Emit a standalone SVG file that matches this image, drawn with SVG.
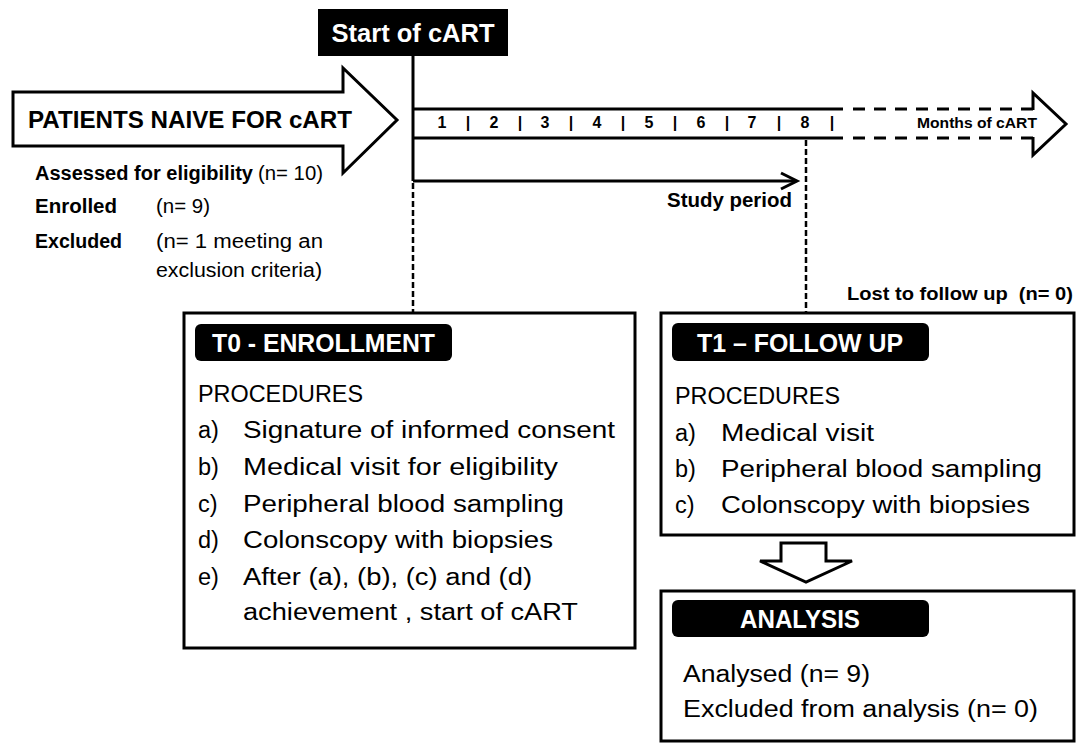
<svg xmlns="http://www.w3.org/2000/svg" width="1078" height="743" viewBox="0 0 1078 743">
<style>
text{font-family:"Liberation Sans",Arial,sans-serif;fill:#000}
.b{font-weight:bold}
.w{fill:#fff}
.hdr{fill:#000}
.box{fill:#fff;stroke:#000;stroke-width:3}
.ln{fill:none;stroke:#000;stroke-width:3}
.dash{fill:none;stroke:#000;stroke-width:2.5;stroke-dasharray:6 3}
.tdash{fill:none;stroke:#000;stroke-width:3;stroke-dasharray:12 9}
.body{font-size:23.5px}
.num{font-size:16px;font-weight:bold;text-anchor:middle}
</style>
<rect width="1078" height="743" fill="#fff"/>

<g id="connectors">
  <line class="ln" x1="413" y1="56" x2="413" y2="181"/>
  <line class="dash" x1="413" y1="183" x2="413" y2="313"/>
  <line class="dash" x1="806" y1="140" x2="806" y2="313"/>
  <line class="ln" x1="413" y1="181" x2="795" y2="181"/>
  <polyline class="ln" points="781,173 797,181 781,189"/>
  <polygon class="box" points="781,543 826,543 826,561 852,561 806,582 760,561 781,561"/>
</g>

<g id="start-cart">
  <rect x="318" y="9" width="190" height="47" fill="#000"/>
  <text class="b w" x="413" y="42" font-size="25" text-anchor="middle" textLength="163" lengthAdjust="spacingAndGlyphs">Start of cART</text>
</g>

<g id="patients-arrow">
  <polygon class="box" points="13,92 343,92 343,68 397,120 343,173 343,146 13,146"/>
  <text class="b" x="28" y="128" font-size="23.5" textLength="324" lengthAdjust="spacingAndGlyphs">PATIENTS NAIVE FOR cART</text>
</g>

<g id="eligibility">
  <text class="b" x="35" y="180" font-size="19.5" textLength="218" lengthAdjust="spacingAndGlyphs">Assessed for eligibility</text>
  <text x="258" y="180" font-size="19.5" textLength="65" lengthAdjust="spacingAndGlyphs">(n= 10)</text>
  <text class="b" x="35" y="213" font-size="19.5" textLength="82" lengthAdjust="spacingAndGlyphs">Enrolled</text>
  <text x="156" y="213" font-size="19.5" textLength="54" lengthAdjust="spacingAndGlyphs">(n= 9)</text>
  <text class="b" x="35" y="248" font-size="19.5" textLength="87" lengthAdjust="spacingAndGlyphs">Excluded</text>
  <text x="156" y="248" font-size="19.5" textLength="167" lengthAdjust="spacingAndGlyphs">(n= 1 meeting an</text>
  <text x="156" y="277" font-size="19.5" textLength="166" lengthAdjust="spacingAndGlyphs">exclusion criteria)</text>
</g>

<g id="timeline">
  <line class="ln" x1="413" y1="109" x2="843" y2="109"/>
  <line class="ln" x1="413" y1="138" x2="843" y2="138"/>
  <line class="tdash" x1="853" y1="109" x2="1033" y2="109"/>
  <line class="tdash" x1="853" y1="138" x2="1033" y2="138"/>
  <polyline class="ln" points="1033,110 1033,93 1066,124 1033,155 1033,137"/>
  <text class="num" x="442" y="128">1</text>
  <text class="num" x="468" y="128">|</text>
  <text class="num" x="494" y="128">2</text>
  <text class="num" x="520" y="128">|</text>
  <text class="num" x="545" y="128">3</text>
  <text class="num" x="571" y="128">|</text>
  <text class="num" x="597" y="128">4</text>
  <text class="num" x="623" y="128">|</text>
  <text class="num" x="649" y="128">5</text>
  <text class="num" x="675" y="128">|</text>
  <text class="num" x="701" y="128">6</text>
  <text class="num" x="727" y="128">|</text>
  <text class="num" x="752" y="128">7</text>
  <text class="num" x="779" y="128">|</text>
  <text class="num" x="805" y="128">8</text>
  <text class="num" x="832" y="128">|</text>
  <text class="b" x="917" y="128" font-size="15.5" textLength="120" lengthAdjust="spacingAndGlyphs">Months of cART</text>
  <text class="b" x="667" y="207" font-size="20" textLength="125" lengthAdjust="spacingAndGlyphs">Study period</text>
  <text class="b" x="847" y="300" font-size="18" textLength="226" lengthAdjust="spacingAndGlyphs" xml:space="preserve">Lost to follow up  (n= 0)</text>
</g>

<g id="t0-enrollment">
  <rect class="box" x="184" y="313" width="451" height="335"/>
  <rect class="hdr" x="195" y="324" width="257" height="37" rx="6"/>
  <text class="b w" x="212" y="352" font-size="26" textLength="223" lengthAdjust="spacingAndGlyphs">T0 - ENROLLMENT</text>
  <text class="body" x="198" y="402" textLength="165" lengthAdjust="spacingAndGlyphs">PROCEDURES</text>
  <text class="body" x="198" y="438">a)</text>
  <text class="body" x="243" y="438" textLength="372" lengthAdjust="spacingAndGlyphs">Signature of informed consent</text>
  <text class="body" x="198" y="475">b)</text>
  <text class="body" x="243" y="475" textLength="315" lengthAdjust="spacingAndGlyphs">Medical visit for eligibility</text>
  <text class="body" x="198" y="512">c)</text>
  <text class="body" x="243" y="512" textLength="321" lengthAdjust="spacingAndGlyphs">Peripheral blood sampling</text>
  <text class="body" x="198" y="548">d)</text>
  <text class="body" x="243" y="548" textLength="310" lengthAdjust="spacingAndGlyphs">Colonscopy with biopsies</text>
  <text class="body" x="198" y="585">e)</text>
  <text class="body" x="243" y="585" textLength="289" lengthAdjust="spacingAndGlyphs">After (a), (b), (c) and (d)</text>
  <text class="body" x="243" y="620" textLength="335" lengthAdjust="spacingAndGlyphs">achievement , start of cART</text>
</g>

<g id="t1-follow-up">
  <rect class="box" x="661" y="313" width="413" height="222"/>
  <rect class="hdr" x="672" y="323" width="257" height="38" rx="6"/>
  <text class="b w" x="697" y="352" font-size="26" textLength="206" lengthAdjust="spacingAndGlyphs">T1 – FOLLOW UP</text>
  <text class="body" x="675" y="404" textLength="165" lengthAdjust="spacingAndGlyphs">PROCEDURES</text>
  <text class="body" x="675" y="441">a)</text>
  <text class="body" x="721" y="441" textLength="153" lengthAdjust="spacingAndGlyphs">Medical visit</text>
  <text class="body" x="675" y="477">b)</text>
  <text class="body" x="721" y="477" textLength="321" lengthAdjust="spacingAndGlyphs">Peripheral blood sampling</text>
  <text class="body" x="675" y="513">c)</text>
  <text class="body" x="721" y="513" textLength="309" lengthAdjust="spacingAndGlyphs">Colonscopy with biopsies</text>
</g>

<g id="analysis">
  <rect class="box" x="661" y="591" width="413" height="150"/>
  <rect class="hdr" x="672" y="600" width="257" height="37" rx="6"/>
  <text class="b w" x="800" y="628" font-size="26" text-anchor="middle" textLength="120" lengthAdjust="spacingAndGlyphs">ANALYSIS</text>
  <text class="body" x="683" y="682" textLength="187" lengthAdjust="spacingAndGlyphs">Analysed (n= 9)</text>
  <text class="body" x="683" y="717" textLength="355" lengthAdjust="spacingAndGlyphs">Excluded from analysis (n= 0)</text>
</g>
</svg>
